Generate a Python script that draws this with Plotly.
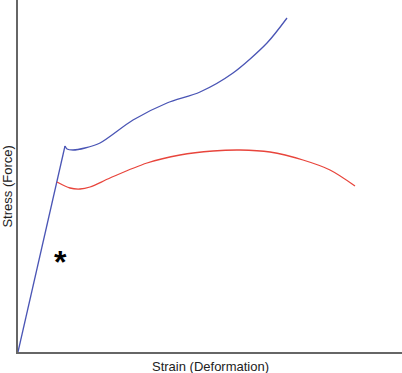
import plotly.graph_objects as go

# Data in chart units (strain, stress)
blue_elastic_x = [0, 47]
blue_elastic_y = [0, 206]

blue_x = [47, 49, 55, 67, 82, 115, 149, 182, 215, 249, 269]
blue_y = [206, 203, 202, 204, 209, 232, 249, 260, 279, 309, 334]

red_x = [39, 52, 62, 72, 92, 129, 162, 195, 222, 252, 285, 312, 337]
red_y = [170, 164, 163, 165, 174, 189, 197, 201, 202, 200, 192, 182, 166]

star_x = [42]
star_y = [94]

fig = go.Figure()
fig.add_trace(go.Scatter(x=blue_elastic_x, y=blue_elastic_y, mode="lines",
                         line=dict(color="#4a55b5", width=1.3), hoverinfo="skip"))
fig.add_trace(go.Scatter(x=blue_x, y=blue_y, mode="lines",
                         line=dict(color="#4a55b5", width=1.3, shape="spline", smoothing=0.8),
                         hoverinfo="skip"))
fig.add_trace(go.Scatter(x=red_x, y=red_y, mode="lines",
                         line=dict(color="#e8453c", width=1.3, shape="spline", smoothing=0.9),
                         hoverinfo="skip"))

fig.add_annotation(x=star_x[0], y=star_y[0], text="<b>*</b>", showarrow=False,
                   font=dict(size=32, color="black", family="Liberation Sans"),
                   yshift=-4)

fig.update_layout(
    width=402, height=373,
    margin=dict(l=18, r=0, t=0, b=21),
    plot_bgcolor="white", paper_bgcolor="white",
    showlegend=False,
    font=dict(family="Liberation Sans, Arial, sans-serif", size=13, color="#222"),
    xaxis=dict(range=[0, 384], showgrid=False, zeroline=False, showticklabels=False,
               ticks="", showline=True, linecolor="#666", linewidth=1.5, fixedrange=True),
    yaxis=dict(range=[0, 352], showgrid=False, zeroline=False, showticklabels=False,
               ticks="", showline=True, linecolor="#666", linewidth=1.5, fixedrange=True),
)
fig.add_annotation(text="Strain (Deformation)", xref="paper", yref="paper",
                   x=0.5, y=0, yshift=-14, xanchor="center", yanchor="middle",
                   showarrow=False, font=dict(size=13, color="#222"))
fig.add_annotation(text="Stress (Force)", xref="paper", yref="paper",
                   x=0, xshift=-10, y=0.47, xanchor="center", yanchor="middle",
                   textangle=-90, showarrow=False,
                   font=dict(size=13, color="#222"))

fig.write_html("out.html", config={"displayModeBar": False},
               post_script="document.body.style.margin='0';")
